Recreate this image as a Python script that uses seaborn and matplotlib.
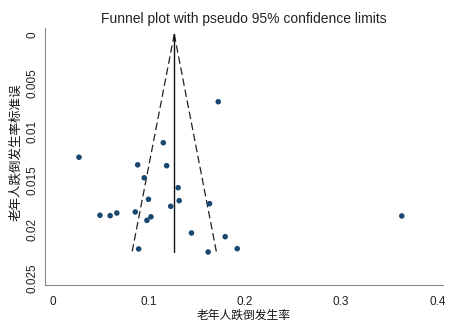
import matplotlib
matplotlib.use("Agg")
import matplotlib.pyplot as plt
import seaborn as sns
import pandas as pd

# Study estimates (effect size = elderly fall incidence) and standard errors
effect = [0.1724, 0.1153, 0.0277, 0.0887, 0.1188, 0.0955, 0.1307, 0.0999,
          0.1318, 0.1634, 0.1230, 0.0495, 0.0601, 0.0670, 0.0862, 0.1025,
          0.0983, 0.1446, 0.1796, 0.0897, 0.1619, 0.1921, 0.3631]
se = [0.00692, 0.01113, 0.01262, 0.01340, 0.01349, 0.01473, 0.01575, 0.01694,
      0.01708, 0.01739, 0.01766, 0.01858, 0.01862, 0.01835, 0.01824, 0.01874,
      0.01910, 0.02040, 0.02078, 0.02204, 0.02235, 0.02201, 0.01865]

pooled = 0.1267
se_max = 0.02235

x_ticks = [0, 0.1, 0.2, 0.3, 0.4]
x_tick_labels = ["0", "0.1", "0.2", "0.3", "0.4"]
y_ticks = [0, 0.005, 0.01, 0.015, 0.02, 0.025]
y_tick_labels = ["0", "0.005", "0.01", "0.015", "0.02", "0.025"]

title = "Funnel plot with pseudo 95% confidence limits"
xlabel = "老年人跌倒发生率"
ylabel = "老年人跌倒发生率标准误"

sns.set_style("white")
plt.rcParams["font.family"] = ["Liberation Sans", "Noto Sans CJK SC", "DejaVu Sans"]

df = pd.DataFrame({"effect": effect, "se": se})
funnel_se = [0.0, se_max]
lower = pd.DataFrame({"x": [pooled, pooled - 1.96 * se_max], "y": funnel_se})
upper = pd.DataFrame({"x": [pooled, pooled + 1.96 * se_max], "y": funnel_se})
center = pd.DataFrame({"x": [pooled, pooled], "y": funnel_se})

fig = plt.figure(figsize=(4.5, 3.24), dpi=100)
ax = fig.add_axes([0.1, 0.1204, 0.884, 0.7932])

sns.lineplot(data=lower, x="x", y="y", ax=ax, color="#222222", lw=0.9,
             sort=False, estimator=None)
ax.lines[-1].set_linestyle((0, (6, 3)))
sns.lineplot(data=upper, x="x", y="y", ax=ax, color="#222222", lw=0.9,
             sort=False, estimator=None)
ax.lines[-1].set_linestyle((0, (6, 3)))
sns.lineplot(data=center, x="x", y="y", ax=ax, color="#111111", lw=1.0,
             sort=False, estimator=None)
sns.scatterplot(data=df, x="effect", y="se", ax=ax, color="#1a476f",
                s=16, edgecolor="none", zorder=3)

ax.set_xlim(-0.0076, 0.4057)
ax.set_ylim(0.02574, -0.00065)
ax.set_xticks(x_ticks)
ax.set_xticklabels(x_tick_labels)
ax.set_yticks(y_ticks)
ax.set_yticklabels(y_tick_labels, rotation=90, va="center")

for side in ["top", "right"]:
    ax.spines[side].set_visible(False)
for side in ["left", "bottom"]:
    ax.spines[side].set_color("#888888")
    ax.spines[side].set_linewidth(0.8)
ax.tick_params(axis="both", length=4, width=0.8, color="#888888",
               labelsize=8.5, labelcolor="#222222", direction="out")
ax.tick_params(axis="x", pad=4)
ax.tick_params(axis="y", pad=1)

ax.set_xlabel(xlabel, fontsize=8.5, color="#111111", labelpad=1)
ax.set_ylabel(ylabel, fontsize=9, color="#111111")
ax.yaxis.set_label_coords(-0.058, 0.517)
ax.set_title(title, fontsize=10, color="#222222", pad=3.5)

fig.savefig("out.png", dpi=100)
